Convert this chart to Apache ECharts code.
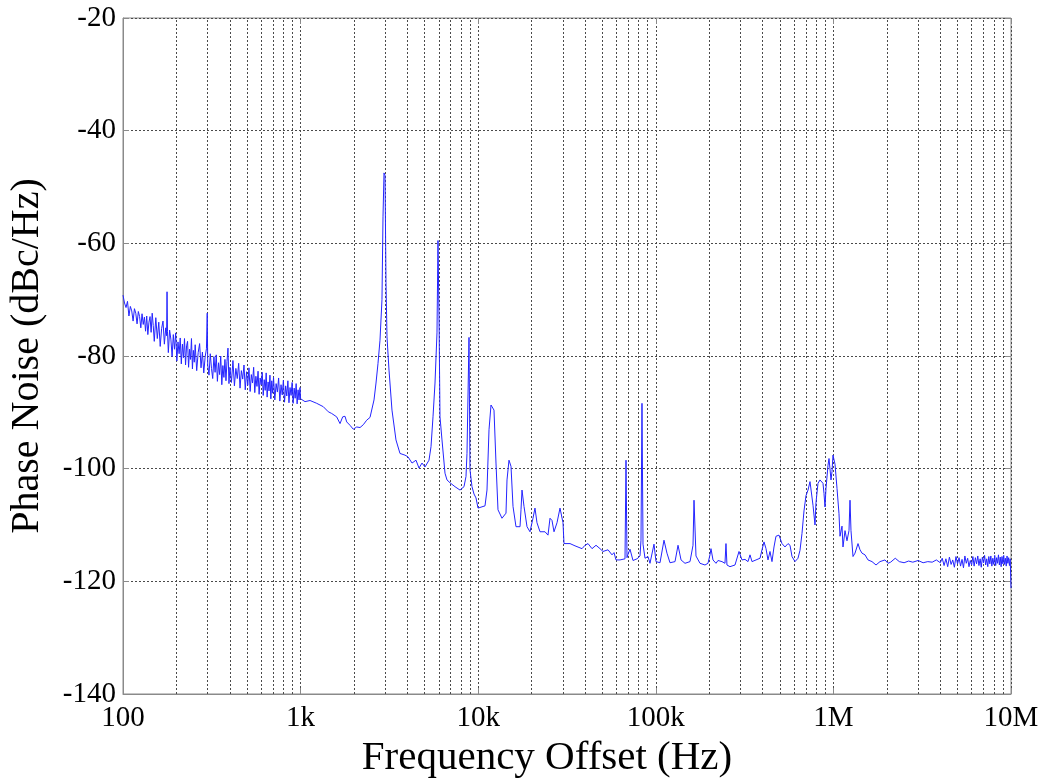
<!DOCTYPE html>
<html>
<head>
<meta charset="utf-8">
<title>Phase Noise</title>
<script src="https://cdn.jsdelivr.net/npm/echarts@6/dist/echarts.min.js"></script>
<style>
  html, body { margin: 0; padding: 0; background: #fff; }
  #chart { width: 1045px; height: 779px; }
</style>
</head>
<body>
<div id="chart"></div>
<script>
// Measured single-sideband phase noise, 100 Hz .. 10 MHz offset.

// 100 Hz .. 1 kHz: noisy close-in region (mains spurs at 180 Hz and 300 Hz)
const lowBandHz = [
  100, 102, 104, 106, 108, 110, 112, 114, 116, 118, 120, 122, 124, 126, 128, 130, 132, 134, 136, 138,
  140, 142, 144, 146, 148, 150, 153, 156, 159, 162, 165, 168, 171, 174, 176, 177, 178, 180, 183, 186,
  189, 192, 195, 198, 201, 204, 207, 210, 213, 216, 219, 222, 225, 228, 231, 234, 237, 240, 243, 246,
  249, 252, 255, 260, 265, 270, 275, 280, 285, 290, 295, 298, 300, 305, 310, 315, 320, 325, 330, 335,
  340, 345, 350, 355, 360, 365, 370, 375, 380, 385, 390, 395, 400, 408, 416, 424, 432, 440, 448, 456,
  464, 472, 480, 488, 496, 504, 512, 520, 528, 536, 544, 552, 560, 568, 576, 584, 592, 600, 608, 616,
  624, 632, 640, 648, 656, 664, 672, 680, 688, 696, 704, 716, 728, 740, 752, 764, 776, 788, 800, 812,
  824, 836, 848, 860, 872, 884, 896, 908, 920, 932, 944, 956, 968, 980, 992, 1000
];
const lowBandDb = [
  -69.2, -70.6, -71.4, -70.3, -72.9, -71.2, -72.0, -73.8, -71.6, -72.4, -74.3, -72.1, -73.0, -75.0, -72.5, -74.4, -73.1, -75.6, -72.9, -76.2,
  -74.0, -73.0, -75.8, -72.4, -74.6, -77.4, -73.2, -76.9, -74.0, -78.3, -75.1, -73.8, -77.9, -75.0, -76.4, -68.6, -75.6, -79.4, -75.4, -77.0,
  -80.1, -76.2, -78.8, -75.9, -80.9, -77.5, -79.6, -76.8, -81.4, -77.9, -80.3, -76.9, -81.6, -78.2, -77.4, -82.0, -78.8, -80.6, -76.9, -82.3,
  -79.0, -81.1, -78.0, -82.6, -79.4, -77.8, -82.1, -79.3, -83.0, -80.2, -78.7, -72.4, -81.6, -83.4, -79.6, -82.2, -84.0, -80.1, -82.9, -79.8,
  -84.5, -81.2, -83.3, -80.0, -85.1, -81.7, -83.8, -80.6, -84.4, -81.0, -78.6, -84.9, -82.0, -84.7, -80.8, -85.3, -82.2, -84.0, -81.3, -85.7,
  -82.6, -84.1, -81.6, -86.0, -82.8, -85.2, -82.1, -86.3, -83.3, -84.8, -82.0, -86.5, -83.6, -85.4, -82.7, -86.8, -83.9, -85.1, -82.9, -87.0,
  -84.2, -86.1, -83.0, -87.3, -84.6, -86.2, -83.4, -87.6, -84.4, -86.6, -83.8, -87.8, -84.9, -86.4, -83.9, -88.0, -85.1, -86.9, -84.3, -88.2,
  -85.3, -87.1, -84.4, -88.3, -85.6, -87.0, -84.7, -88.4, -85.7, -87.5, -84.9, -88.5, -86.0, -87.8, -85.6, -87.6
];

// 1 kHz .. 2 MHz: loop resonance near 3 kHz, harmonic spurs, PLL bump near 1 MHz
const midBandHz = [
  1059, 1130, 1232, 1342, 1432, 1496, 1596, 1667, 1726, 1778, 1818, 1897, 1980, 2070, 2161, 2254, 2355, 2460, 2523, 2590,
  2658, 2728, 2799, 2872, 2911, 2949, 2987, 3026, 3065, 3146, 3270, 3444, 3628, 3871, 4024, 4240, 4465, 4642, 4826, 5017,
  5284, 5424, 5566, 5712, 5861, 5938, 6016, 6094, 6254, 6502, 6673, 6937, 7403, 7899, 8318, 8536, 8648, 8760, 8876, 8991,
  9226, 9471, 9719, 9975, 10923, 11208, 11503, 11806, 12272, 12595, 12926, 13614, 14339, 14527, 14908, 15300, 15703, 16324, 17197, 17421,
  17648, 18112, 18828, 19571, 20345, 20879, 21429, 22284, 23775, 24717, 25372, 26036, 26721, 27780, 28880, 30024, 30417, 32880, 35080, 38420,
  39940, 41520, 43740, 46070, 48520, 50440, 53820, 56680, 58170, 59700, 62880, 67080, 67960, 68840, 69730, 71570, 74400, 78390, 81470, 82540,
  83610, 84710, 86940, 90380, 92750, 97700, 100250, 105600, 111200, 115600, 120200, 128300, 133400, 138700, 146000, 155800, 162000, 164100, 168400, 177400,
  189200, 196700, 201900, 204500, 209900, 218300, 223900, 235900, 245200, 248400, 251600, 261600, 279200, 294100, 298000, 305800, 317900, 330500, 339200, 348100,
  366700, 386200, 396300, 406700, 417400, 428300, 439500, 451100, 462900, 475000, 493900, 513500, 533900, 555100, 569700, 584700, 607900, 623700, 631900, 648500,
  665500, 683000, 701000, 719500, 738400, 747900, 767600, 787800, 798000, 819000, 840500, 873800, 885200, 896800, 908500, 932400, 944600, 969400, 982100, 994800,
  1007800, 1021000, 1047800, 1075300, 1089400, 1118100, 1132500, 1162300, 1192800, 1224100, 1240200, 1256300, 1289400, 1323200, 1375700, 1411900, 1448800, 1506400, 1566000, 1649600,
  1737800, 1829500, 1952500, 2029700
];
const midBandDb = [
  -88.1, -87.9, -88.4, -89.0, -89.9, -90.2, -90.8, -92.0, -90.8, -90.7, -91.7, -92.3, -93.0, -92.6, -92.7, -92.2, -91.4, -90.9, -90.8, -87.8,
  -84.8, -81.3, -77.2, -70.0, -55.3, -47.5, -47.9, -67.0, -76.6, -82.5, -89.6, -94.9, -97.3, -97.6, -97.9, -99.0, -98.5, -99.9, -99.0, -99.7,
  -98.5, -96.1, -90.8, -84.8, -75.9, -59.5, -73.0, -90.8, -94.9, -100.8, -102.0, -102.5, -103.2, -103.8, -103.2, -101.4, -97.3, -97.0, -76.7, -100.2,
  -103.2, -104.5, -105.2, -107.0, -106.6, -103.8, -93.1, -88.7, -89.6, -99.0, -107.3, -108.8, -107.9, -102.0, -98.5, -99.6, -106.7, -110.3, -110.3, -107.3,
  -103.8, -106.7, -110.3, -111.2, -108.8, -107.0, -109.6, -111.2, -111.2, -111.8, -108.8, -109.2, -111.2, -109.6, -107.0, -109.6, -113.3, -113.3, -113.7, -114.2,
  -113.6, -113.3, -114.2, -113.6, -114.2, -114.7, -114.4, -115.3, -114.9, -116.2, -116.2, -116.0, -98.5, -115.8, -115.2, -114.3, -116.3, -116.0, -115.5, -112.7,
  -88.4, -113.4, -115.9, -115.6, -116.8, -113.4, -116.5, -116.7, -112.7, -115.0, -116.7, -116.5, -113.6, -116.2, -116.8, -116.5, -113.6, -105.6, -115.5, -116.8,
  -117.1, -116.8, -115.3, -114.2, -116.2, -116.8, -116.3, -116.5, -116.8, -113.3, -117.1, -117.4, -117.1, -114.7, -114.4, -116.2, -116.1, -116.5, -115.3, -116.5,
  -116.2, -115.9, -114.4, -113.0, -114.2, -116.2, -114.7, -116.5, -113.9, -112.0, -111.8, -113.3, -113.9, -113.3, -113.6, -115.6, -116.5, -116.5, -115.9, -114.5,
  -111.5, -107.5, -104.8, -103.8, -102.3, -102.6, -106.5, -110.0, -106.0, -102.6, -102.0, -102.6, -104.4, -106.8, -103.5, -99.4, -98.2, -102.0, -100.5, -97.6,
  -97.3, -99.2, -103.5, -108.0, -112.0, -110.2, -113.9, -111.0, -112.8, -111.0, -105.6, -111.0, -115.6, -115.0, -113.3, -114.4, -115.0, -115.3, -116.2, -116.5,
  -117.1, -116.5, -116.2, -116.8
];

// 2 MHz .. 10 MHz: far-out noise floor
const tailHz = [
  2100000, 2230000, 2350000, 2500000, 2650000, 2800000, 3000000, 3200000, 3400000, 3600000, 3800000, 4000000,
  4100000, 4200000, 4300000, 4400000, 4500000, 4600000, 4700000, 4800000, 4900000, 5000000,
  5100000, 5200000, 5300000, 5400000, 5500000, 5600000, 5700000, 5800000, 5900000, 6000000,
  6100000, 6200000, 6300000, 6400000, 6500000, 6600000, 6700000, 6800000, 6900000, 7000000,
  7100000, 7200000, 7300000, 7400000, 7500000, 7600000, 7700000, 7800000, 7900000, 8000000,
  8100000, 8200000, 8300000, 8400000, 8500000, 8600000, 8700000, 8800000, 8900000, 9000000,
  9100000, 9200000, 9300000, 9400000, 9500000, 9600000, 9700000, 9800000, 9900000, 10000000
];
const tailDb = [
  -116.6, -115.9, -116.5, -116.7, -116.4, -116.6, -116.3, -116.7, -116.5, -116.6, -116.2, -116.7,
  -115.9, -117.2, -116.0, -117.4, -115.7, -117.0, -116.2, -117.5, -115.6, -116.9,
  -115.8, -117.3, -116.1, -117.6, -115.5, -116.8, -115.9, -117.4, -116.3, -117.1,
  -115.6, -117.3, -115.8, -116.9, -115.5, -117.2, -116.0, -117.5, -115.7, -116.7,
  -115.4, -117.1, -116.0, -117.4, -115.6, -116.9, -115.5, -117.3, -115.9, -117.0,
  -115.4, -117.2, -115.8, -116.8, -115.3, -117.1, -115.7, -117.4, -115.6, -116.9,
  -115.4, -117.0, -115.9, -117.3, -115.5, -116.8, -115.8, -117.2, -116.0, -121.2
];

// Axis tick text, one per decade from 100 Hz to 10 MHz
const xTickLabels = ['100', '1k', '10k', '100k', '1M', '10M'];
const yTicks = [-140, -120, -100, -80, -60, -40, -20];

const freqs = [].concat(lowBandHz, midBandHz, tailHz);
const levels = [].concat(lowBandDb, midBandDb, tailDb);
const points = freqs.map((f, i) => [f, levels[i]]);

// Intermediate decade lines (2x .. 9x) for the log frequency grid
const minorLines = [];
for (let e = 2; e < 7; e++) {
  for (let m = 2; m <= 9; m++) minorLines.push({ xAxis: m * Math.pow(10, e) });
}

const serif = '"Liberation Serif", "Times New Roman", serif';
const frameColor = '#8a8a8a';
const gridLine = { color: '#4a4a4a', width: 1, type: [2, 2] };

const chart = echarts.init(document.getElementById('chart'), null, { renderer: 'canvas' });
chart.setOption({
  animation: false,
  backgroundColor: '#ffffff',
  grid: {
    left: 123, top: 18, right: 34, bottom: 85,
    outerBoundsMode: 'none',
    containLabel: false,
    show: true, borderColor: frameColor, borderWidth: 1, backgroundColor: 'transparent'
  },
  xAxis: [{
    type: 'log',
    logBase: 10,
    min: 100,
    max: 10000000,
    name: 'Frequency Offset (Hz)',
    nameLocation: 'middle',
    nameGap: 27,
    nameTextStyle: { fontFamily: serif, fontSize: 41, color: '#000', padding: [0, 40, 0, 0] },
    axisLine: { show: true, lineStyle: { color: frameColor, width: 1 } },
    axisTick: { show: true, inside: true, length: 6, lineStyle: { color: frameColor } },
    axisLabel: {
      margin: 10,
      fontFamily: serif, fontSize: 29, color: '#000',
      showMinLabel: true, showMaxLabel: true,
      formatter: v => xTickLabels[Math.round(Math.log10(v)) - 2]
    },
    splitLine: { show: true, lineStyle: gridLine }
  }, {
    type: 'log',
    logBase: 10,
    min: 100,
    max: 10000000,
    position: 'top',
    axisLine: { show: false },
    axisTick: { show: true, inside: true, length: 6, lineStyle: { color: frameColor } },
    axisLabel: { show: false },
    splitLine: { show: false }
  }],
  yAxis: [{
    type: 'value',
    min: yTicks[0],
    max: yTicks[yTicks.length - 1],
    interval: 20,
    name: 'Phase Noise (dBc/Hz)',
    nameLocation: 'middle',
    nameGap: 76,
    nameTextStyle: { fontFamily: serif, fontSize: 40, color: '#000' },
    axisLine: { show: true, lineStyle: { color: frameColor, width: 1 } },
    axisTick: { show: true, inside: true, length: 6, lineStyle: { color: frameColor } },
    axisLabel: { margin: 7, fontFamily: serif, fontSize: 29, color: '#000' },
    splitLine: { show: true, lineStyle: gridLine }
  }, {
    type: 'value',
    min: yTicks[0],
    max: yTicks[yTicks.length - 1],
    interval: 20,
    position: 'right',
    axisLine: { show: false },
    axisTick: { show: true, inside: true, length: 6, lineStyle: { color: frameColor } },
    axisLabel: { show: false },
    splitLine: { show: false }
  }],
  series: [{
    type: 'line',
    xAxisIndex: 0,
    yAxisIndex: 0,
    data: points,
    showSymbol: false,
    symbol: 'none',
    sampling: null,
    clip: true,
    lineStyle: { color: '#2424ff', width: 1 },
    z: 3,
    markLine: {
      silent: true,
      symbol: 'none',
      label: { show: false },
      lineStyle: gridLine,
      data: minorLines,
      z: 1
    }
  }]
});
</script>
</body>
</html>
